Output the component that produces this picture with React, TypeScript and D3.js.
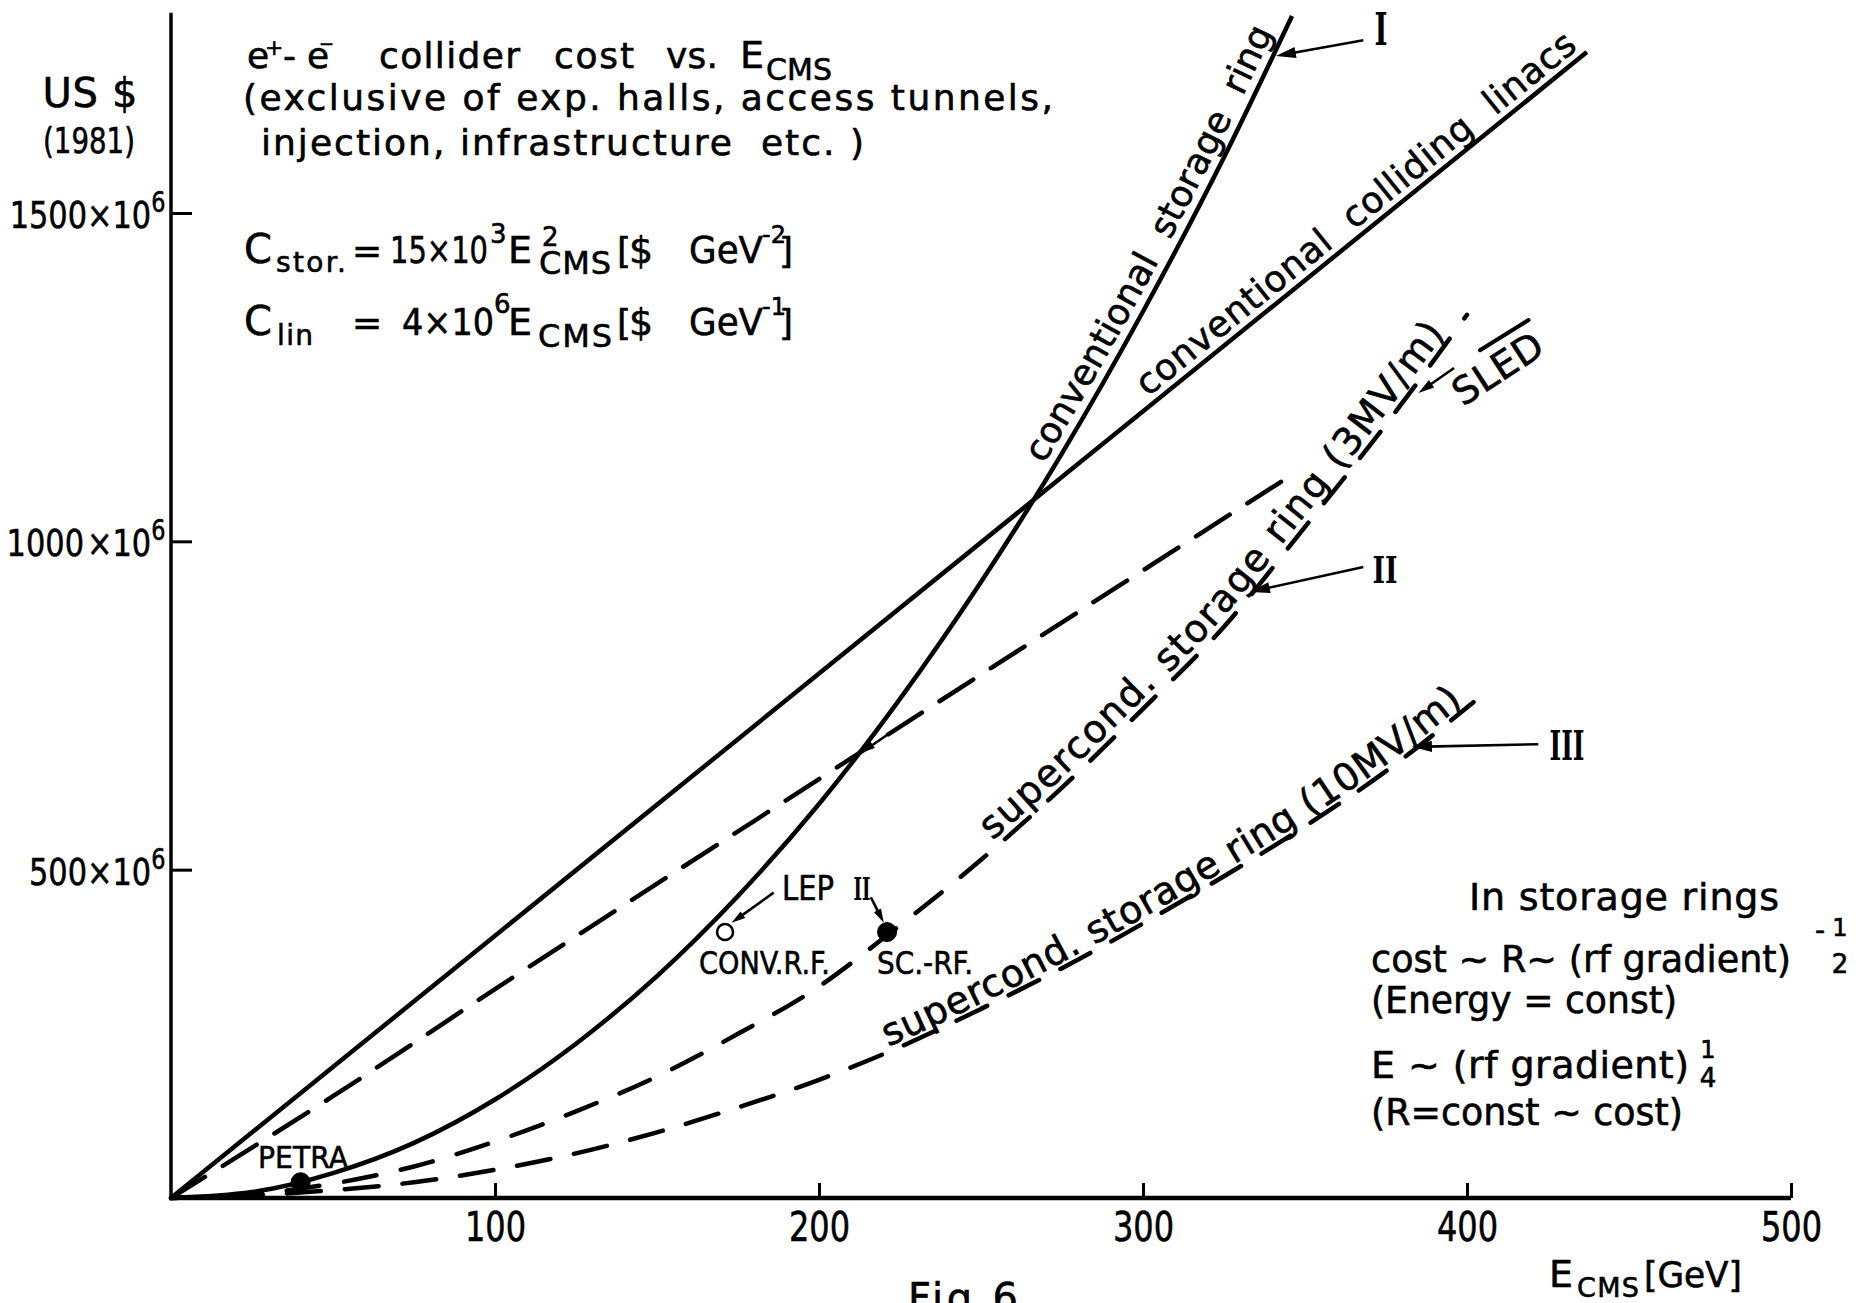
import React, { useEffect, useRef } from 'react';
import * as d3 from 'd3';

// E_CMS [GeV] vs cost [10^6 US $]

// I: conventional storage ring
const ringE = [0, 25, 50, 75, 100, 125, 150, 175, 200, 225, 250, 275, 300, 325, 346];
const ringCost = [0, 9, 38, 84, 150, 235, 338, 460, 600, 760, 938, 1134, 1350, 1585, 1800];

// conventional colliding linacs
const linacE = [0, 437];
const linacCost = [0, 1745];

// long-dashed straight line
const sledE = [0, 50, 100, 200, 343];
const sledCost = [0, 155, 318, 638, 1092];

// II: supercond. storage ring (3MV/m)
const sc3E = [0, 25, 50, 75, 100, 125, 150, 175, 200, 221, 250, 275, 300, 325, 350, 375, 400];
const sc3Cost = [0, 6, 22, 48, 86, 132, 185, 250, 322, 400, 515, 625, 745, 870, 1022, 1178, 1345];

// III: supercond. storage ring (10MV/m)
const sc10E = [0, 25, 50, 75, 100, 125, 150, 175, 200, 225, 250, 275, 300, 325, 350, 375, 402];
const sc10Cost = [0, 4, 12, 24, 43, 68, 100, 138, 180, 230, 288, 350, 418, 490, 566, 650, 755];

const xTicks = [100, 200, 300, 400, 500];
const yTicks = [500, 1000, 1500];
const yTickText = ['500×10', '1000\u200A×10', '1500×10'];
const yAxisTop = 1805;

// PETRA, LEP II conv. RF, LEP II sc. RF
const pointE = [40, 171, 221];
const pointCost = [24, 405, 405];
const pointOpen = [false, true, false];

// annotation arrows: tail -> head
const arrowTailE = [368, 368, 422, 396, 186, 216, 221];
const arrowTailCost = [1763, 961, 691, 1264, 465, 458, 705];
const arrowHeadE = [341, 333, 383, 385, 173, 220, 213];
const arrowHeadCost = [1739, 923, 687, 1226, 419, 419, 678];
const arrowHeadLen = [20, 20, 20, 16, 14, 14, 14];

// short bar over "SLED"
const sledBarE = [404, 419];
const sledBarCost = [1291, 1337];

// labels written along the curves
const curveLabelText = [
  'conventional  storage  ring',
  'conventional  colliding  linacs',
  'supercond. storage ring (3MV/m)',
  'supercond. storage ring (10MV/m)',
];
const curveLabelFrom = [272, 303, 255, 222];
const curveLabelTo = [343, 436, 395, 400];

const FONT = "'DejaVu Sans', 'Noto Sans', sans-serif";
const SERIF = "'DejaVu Serif', 'Liberation Serif', serif";

type Opt = { len?: number; anchor?: string; serif?: boolean; bold?: boolean; rotate?: number };

export default function App() {
  const svgRef = useRef<SVGSVGElement>(null);

  useEffect(() => {
    const svg = d3.select(svgRef.current);
    svg.selectAll('*').remove();

    const x = d3.scaleLinear().domain([0, 500]).range([171, 1791]);
    const y = d3.scaleLinear().domain([0, 1500]).range([1198, 213]);

    svg.append('rect').attr('width', 1860).attr('height', 1303).attr('fill', '#fff');

    const put = (px: number, py: number, s: string, size: number, o: Opt = {}) => {
      const t = svg.append('text')
        .attr('x', px).attr('y', py)
        .attr('font-size', size)
        .attr('font-family', o.serif ? SERIF : FONT)
        .attr('fill', '#000')
        .attr('stroke', '#000')
        .attr('stroke-width', o.serif ? 0 : 0.6)
        .style('white-space', 'pre')
        .text(s);
      if (o.anchor) t.attr('text-anchor', o.anchor);
      if (o.bold) t.attr('font-weight', 'bold');
      if (o.rotate) t.attr('transform', `rotate(${o.rotate},${px},${py})`);
      if (o.len) {
        const natural = (t.node() as SVGTextElement).getComputedTextLength();
        t.attr('textLength', o.len).attr('lengthAdjust', natural > o.len ? 'spacingAndGlyphs' : 'spacing');
      }
      return t;
    };

    // axes
    svg.append('line')
      .attr('x1', x(0)).attr('y1', y(0)).attr('x2', x(0)).attr('y2', y(yAxisTop))
      .attr('stroke', '#000').attr('stroke-width', 3.5);
    svg.append('line')
      .attr('x1', x(0) - 2).attr('y1', y(0)).attr('x2', x(500)).attr('y2', y(0))
      .attr('stroke', '#000').attr('stroke-width', 4.5);

    const gx = svg.append('g')
      .attr('transform', `translate(0,${y(0)})`)
      .call(d3.axisBottom(x).tickValues(xTicks).tickSize(-15).tickPadding(15).tickFormat(d3.format('d')));
    gx.select('.domain').remove();
    gx.selectAll('.tick line').attr('stroke', '#000').attr('stroke-width', 3);
    gx.selectAll('.tick text')
      .attr('font-size', 40).attr('font-family', FONT).attr('fill', '#000')
      .attr('stroke', '#000').attr('stroke-width', 0.6)
      .attr('transform', 'scale(0.8,1)');

    const gy = svg.append('g')
      .attr('transform', `translate(${x(0)},0)`)
      .call(d3.axisLeft(y).tickValues(yTicks).tickSize(-21).tickPadding(7)
        .tickFormat((_d, i) => yTickText[i]));
    gy.select('.domain').remove();
    gy.selectAll('.tick line').attr('stroke', '#000').attr('stroke-width', 3);
    gy.selectAll('.tick text')
      .attr('font-size', 38).attr('font-family', FONT).attr('fill', '#000')
      .attr('stroke', '#000').attr('stroke-width', 0.6)
      .attr('dy', '0.38em')
      .attr('transform', 'scale(0.8,1)')
      .append('tspan').attr('dy', -16).attr('font-size', 28).text('6');

    // curves
    const line = d3.line<[number, number]>()
      .x((d) => x(d[0]))
      .y((d) => y(d[1]))
      .curve(d3.curveMonotoneX);

    const curves = [
      { id: 'c-ring', data: d3.zip(ringE, ringCost), dash: null },
      { id: 'c-linac', data: d3.zip(linacE, linacCost), dash: null },
      { id: 'c-sled', data: d3.zip(sledE, sledCost), dash: '40 21' },
      { id: 'c-sc3', data: d3.zip(sc3E, sc3Cost), dash: '33 25' },
      { id: 'c-sc10', data: d3.zip(sc10E, sc10Cost), dash: '34 24' },
    ];
    curves.forEach((c) => {
      const p = svg.append('path')
        .attr('id', c.id)
        .attr('d', line(c.data as [number, number][]))
        .attr('fill', 'none')
        .attr('stroke', '#000')
        .attr('stroke-width', 4.5);
      if (c.dash) p.attr('stroke-dasharray', c.dash).attr('stroke-linecap', 'round');
    });

    // labels along curves
    const lengthAtX = (node: SVGPathElement, px: number) => {
      let lo = 0;
      let hi = node.getTotalLength();
      for (let i = 0; i < 40; i++) {
        const mid = (lo + hi) / 2;
        if (node.getPointAtLength(mid).x < px) lo = mid;
        else hi = mid;
      }
      return lo;
    };
    const labelPath = ['c-ring', 'c-linac', 'c-sc3', 'c-sc10'];
    const labelSize = [36, 36, 38, 38];
    const labelShift = [-10, -8, -7, -5];
    curveLabelText.forEach((s, i) => {
      const node = svg.select<SVGPathElement>(`#${labelPath[i]}`).node() as SVGPathElement;
      const l0 = lengthAtX(node, x(curveLabelFrom[i]));
      const l1 = lengthAtX(node, x(curveLabelTo[i]));
      svg.append('text')
        .attr('font-size', labelSize[i])
        .attr('font-family', FONT)
        .attr('fill', '#000')
        .attr('stroke', '#000')
        .attr('stroke-width', 0.6)
        .attr('dy', labelShift[i])
        .style('white-space', 'pre')
        .append('textPath')
        .attr('href', `#${labelPath[i]}`)
        .attr('startOffset', l0)
        .attr('textLength', l1 - l0)
        .attr('lengthAdjust', 'spacing')
        .text(s);
    });

    // points
    pointE.forEach((e, i) => {
      svg.append('circle')
        .attr('cx', x(e)).attr('cy', y(pointCost[i]))
        .attr('r', pointOpen[i] ? 8 : 9.5)
        .attr('fill', pointOpen[i] ? '#fff' : '#000')
        .attr('stroke', '#000')
        .attr('stroke-width', pointOpen[i] ? 2.5 : 1);
    });

    // arrows
    arrowTailE.forEach((_e, i) => {
      const x1 = x(arrowTailE[i]);
      const y1 = y(arrowTailCost[i]);
      const x2 = x(arrowHeadE[i]);
      const y2 = y(arrowHeadCost[i]);
      const a = Math.atan2(y2 - y1, x2 - x1);
      const L = arrowHeadLen[i];
      const w = L * 0.28;
      svg.append('line')
        .attr('x1', x1).attr('y1', y1)
        .attr('x2', x2 - Math.cos(a) * L * 0.7).attr('y2', y2 - Math.sin(a) * L * 0.7)
        .attr('stroke', '#000').attr('stroke-width', 2.6);
      const bx = x2 - Math.cos(a) * L;
      const by = y2 - Math.sin(a) * L;
      svg.append('path')
        .attr('d', `M${x2},${y2}L${bx + Math.sin(a) * w},${by - Math.cos(a) * w}L${bx - Math.sin(a) * w},${by + Math.cos(a) * w}Z`)
        .attr('fill', '#000');
    });

    svg.append('line')
      .attr('x1', x(sledBarE[0])).attr('y1', y(sledBarCost[0]))
      .attr('x2', x(sledBarE[1])).attr('y2', y(sledBarCost[1]))
      .attr('stroke', '#000').attr('stroke-width', 4).attr('stroke-linecap', 'round');

    // y axis title
    put(90, 107, 'US $', 40, { anchor: 'middle', len: 95 });
    put(89, 153, '(1981)', 35, { anchor: 'middle', len: 92 });

    // title block
    put(247, 68, 'e', 36);
    put(265, 55, '+', 22);
    put(283, 68, '-', 36);
    put(307, 68, 'e', 36);
    put(319, 50, '−', 18);
    put(379, 68, 'collider', 36, { len: 141 });
    put(554, 68, 'cost', 36, { len: 80 });
    put(666, 68, 'vs.', 36, { len: 52 });
    put(740, 68, 'E', 38);
    put(766, 80, 'CMS', 30, { len: 66 });
    put(243, 110, '(exclusive of exp. halls, access tunnels,', 36, { len: 810 });
    put(261, 155, 'injection, infrastructure  etc. )', 36, { len: 603 });

    // C_stor
    put(244, 263, 'C', 40);
    put(276, 272, 'stor.', 28, { len: 70 });
    put(352, 263, '=', 36);
    put(390, 263, '15×10', 38, { len: 98 });
    put(490, 243, '3', 26);
    put(508, 263, 'E', 38);
    put(542, 246, '2', 26);
    put(539, 274, 'CMS', 32, { len: 72 });
    put(617, 263, '[', 36);
    put(629, 263, '$', 38);
    put(689, 263, 'GeV', 38, { len: 74 });
    put(762, 243, '-2', 24);
    put(779, 263, ']', 36);

    // C_lin
    put(244, 335, 'C', 40);
    put(277, 345, 'lin', 28, { len: 36 });
    put(352, 335, '=', 36);
    put(402, 335, '4×10', 38, { len: 92 });
    put(494, 313, '6', 26);
    put(508, 335, 'E', 38);
    put(538, 347, 'CMS', 32, { len: 74 });
    put(617, 335, '[', 36);
    put(629, 335, '$', 38);
    put(689, 335, 'GeV', 38, { len: 74 });
    put(762, 315, '-1', 24);
    put(779, 335, ']', 36);

    // right text block
    put(1469, 910, 'In storage rings', 38, { len: 310 });
    put(1371, 972, 'cost ~ R~ (rf gradient)', 38, { len: 420 });
    put(1815, 940, '-', 28);
    put(1840, 936, '1', 24, { anchor: 'middle' });
    put(1840, 973, '2', 26, { anchor: 'middle' });
    put(1371, 1013, '(Energy = const)', 38, { len: 306 });
    put(1371, 1078, 'E ~ (rf gradient)', 38, { len: 318 });
    put(1708, 1058, '1', 24, { anchor: 'middle' });
    put(1708, 1087, '4', 26, { anchor: 'middle' });
    put(1371, 1125, '(R=const ~ cost)', 38, { len: 312 });

    // point labels
    put(258, 1168, 'PETRA', 30, { len: 90 });
    put(782, 900, 'LEP', 34, { len: 52 });
    put(862, 900, 'II', 32, { serif: true, bold: true, anchor: 'middle', len: 17 });
    put(699, 974, 'CONV.R.F.', 32, { len: 131 });
    put(877, 974, 'SC.-RF.', 32, { len: 96 });
    put(1463, 407, 'SLED', 38, { len: 100, rotate: -33 });

    // curve numbers
    put(1381, 45, 'I', 44, { serif: true, bold: true, anchor: 'middle', len: 13 });
    put(1385, 583, 'II', 38, { serif: true, bold: true, anchor: 'middle', len: 25 });
    put(1567, 760, 'III', 41, { serif: true, bold: true, anchor: 'middle', len: 35 });

    // x axis title and caption
    put(1549, 1287, 'E', 38);
    put(1577, 1297, 'CMS', 27, { len: 62 });
    put(1644, 1287, '[GeV]', 36, { len: 98 });
    put(908, 1312, 'Fig.6', 40, { len: 110 });
  }, []);

  return (
    <svg
      ref={svgRef}
      width={1860}
      height={1303}
      style={{ position: 'absolute', left: 0, top: 0, display: 'block' }}
    />
  );
}
